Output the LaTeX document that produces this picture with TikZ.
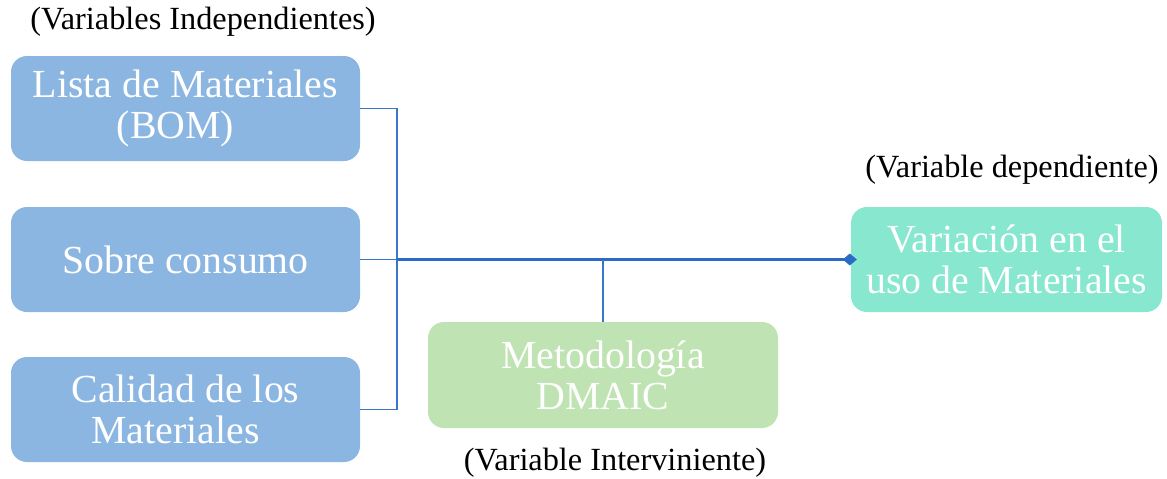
\documentclass[tikz,border=0pt]{standalone}
\usepackage{fontspec}
\setmainfont{Liberation Serif}
\usetikzlibrary{arrows.meta}
\definecolor{boxblue}{HTML}{8CB6E2}
\definecolor{boxgreen}{HTML}{C0E3B3}
\definecolor{boxteal}{HTML}{88E7CF}
\definecolor{lineblue}{HTML}{3A75C8}
\definecolor{mainblue}{HTML}{2A6CC4}
\begin{document}
\begin{tikzpicture}[x=1pt,y=-1pt,
  vbox/.style={rounded corners=16pt, inner sep=0pt, text=white, align=center,
    font=\fontsize{39.8}{41}\selectfont},
  lbl/.style={inner sep=0pt, font=\fontsize{32.3}{34}\selectfont},
  thin/.style={draw=lineblue, line width=1.6pt},
  thick/.style={draw=mainblue, line width=2.6pt}]
\useasboundingbox (0,0) rectangle (1167,479);
\node[vbox, fill=boxblue, minimum width=349pt, minimum height=105pt] (bom) at (185.5,108.5) {Lista de Materiales\\(BOM)\hspace*{20pt}};
\node[vbox, fill=boxblue, minimum width=349pt, minimum height=105pt] (sob) at (185.5,259.5) {Sobre consumo};
\node[vbox, fill=boxblue, minimum width=349pt, minimum height=105pt] (cal) at (185.5,409.5) {Calidad de los\\Materiales\hspace*{20pt}};
\node[vbox, fill=boxgreen, minimum width=350pt, minimum height=106pt] (dma) at (603,375) {Metodología\\DMAIC};
\node[vbox, fill=boxteal, minimum width=311pt, minimum height=105pt] (var) at (1006.5,259.5) {Variación en el\\uso de Materiales};
\node[lbl] (l1) at (203,22) {(Variables Independientes)};
\node[lbl] (l2) at (1012,170) {(Variable dependiente)};
\node[lbl] (l3) at (615,463) {(Variable Interviniente)};
\coordinate (j) at (397,259.5);
\draw[thin] (bom.east) -| (j);
\draw[thin] (cal.east) -| (j);
\draw[thin] (sob.east) -- (j);
\draw[thick, -{Diamond[length=14pt,width=12pt]}] (j) -- ([xshift=6pt]var.west);
\draw[thin, line width=2.4pt] (dma.north) -- (dma.north |- j);
\end{tikzpicture}
\end{document}
